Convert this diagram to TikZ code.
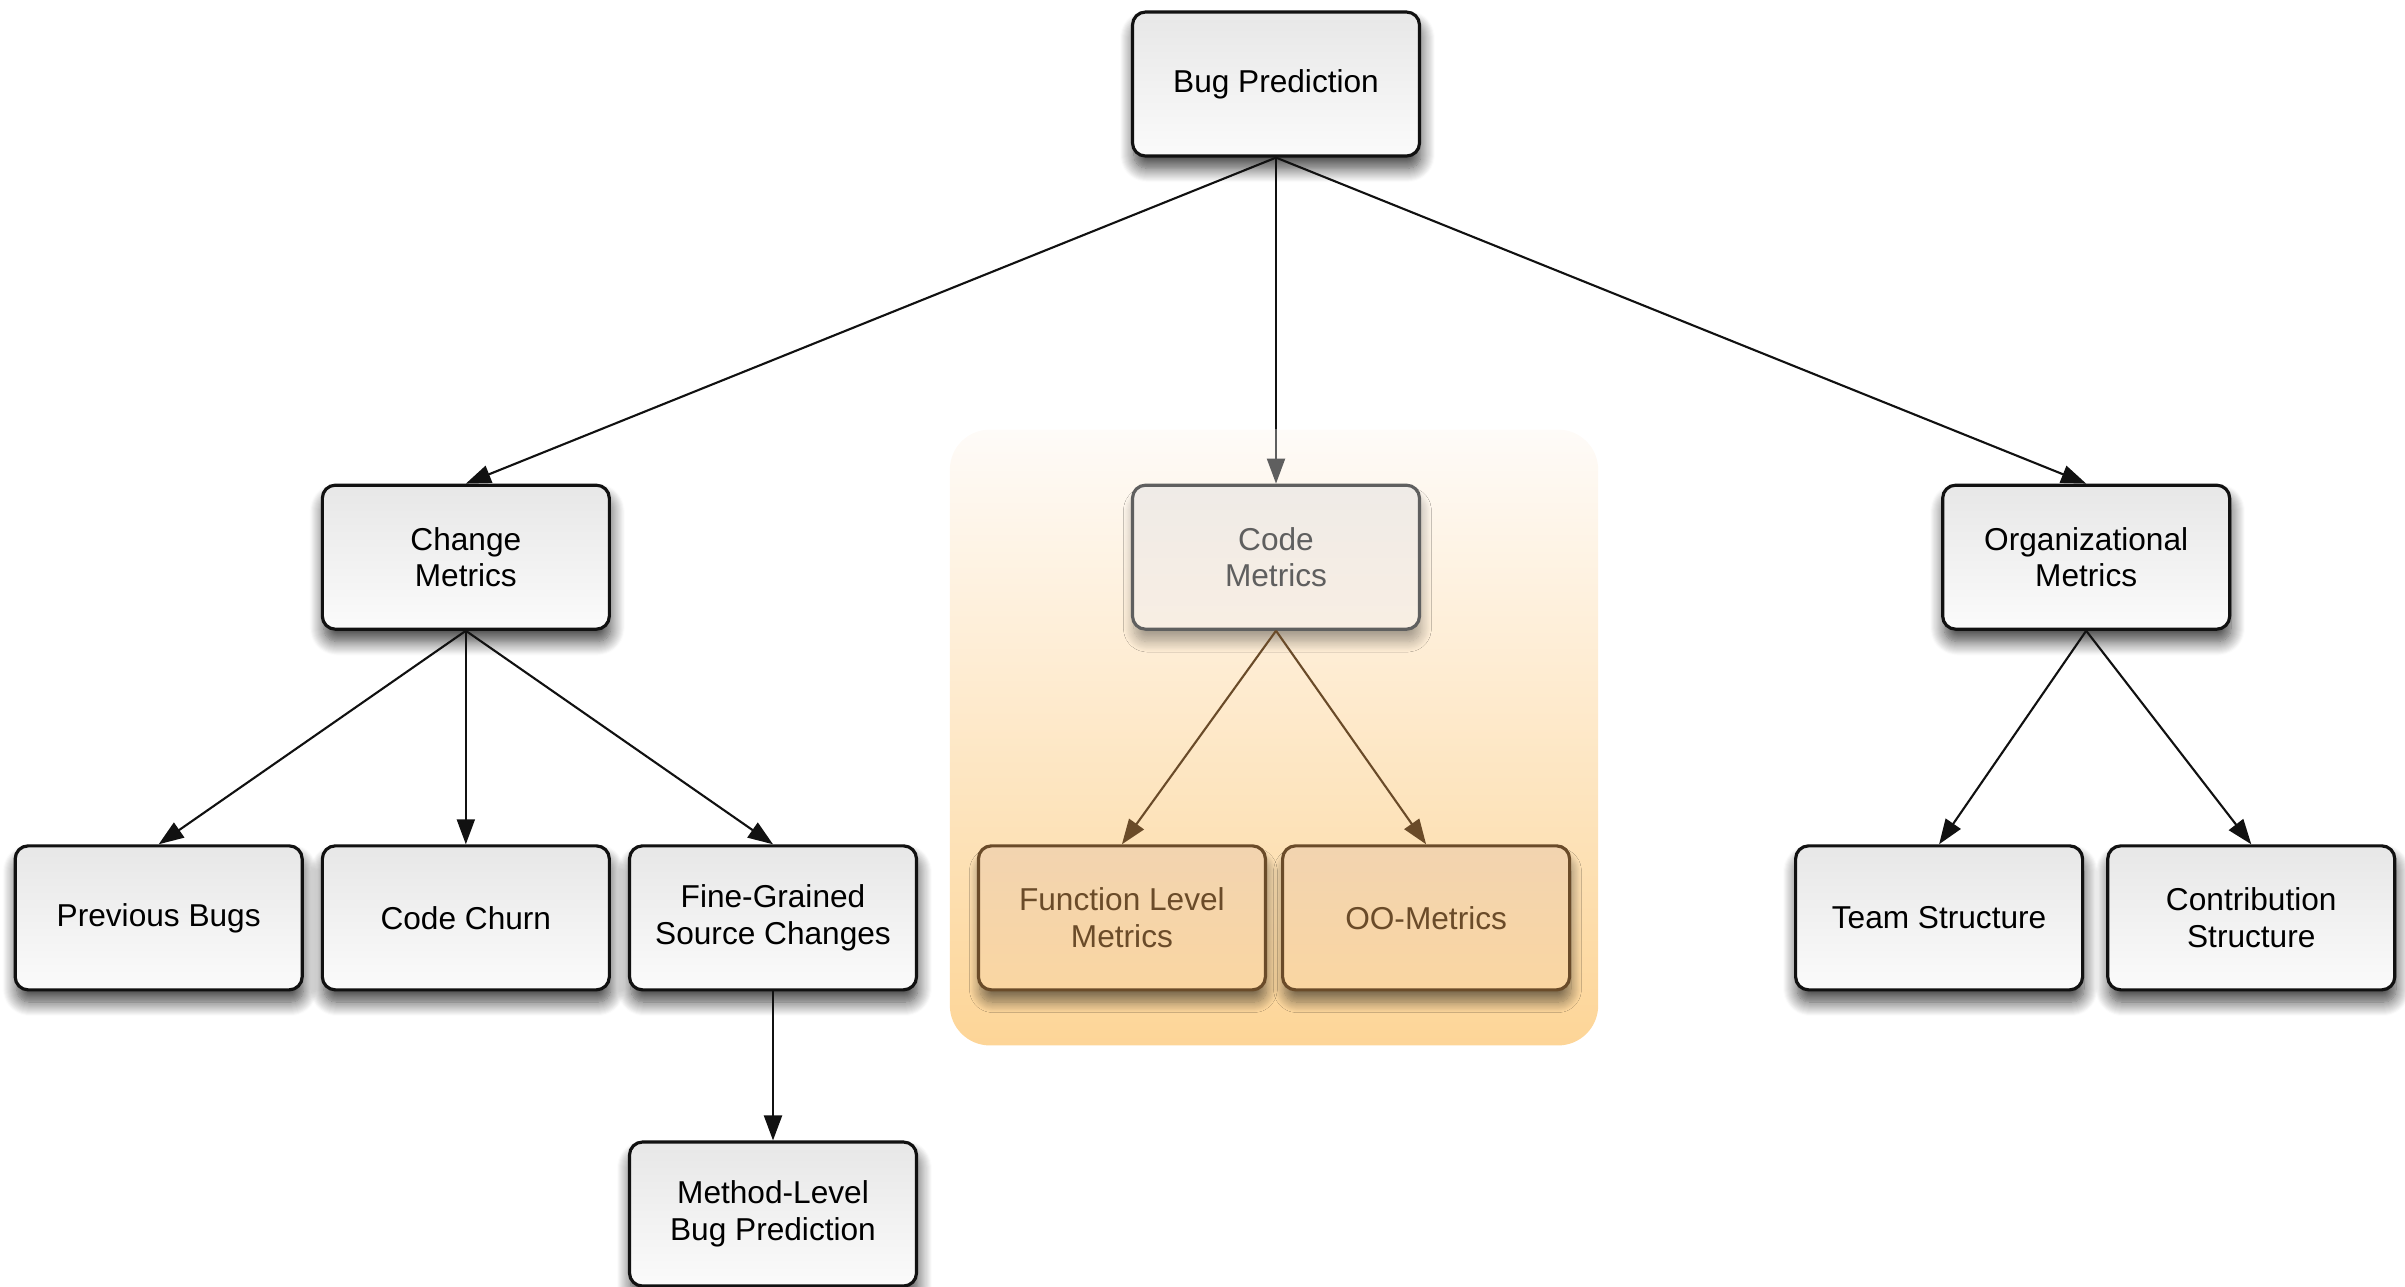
\documentclass[tikz,border=0pt]{standalone}
\usepackage{fontspec}
\setmainfont{Liberation Sans}
\usepackage{tikz}
\usetikzlibrary{arrows.meta,positioning,fit,backgrounds,shadows.blur}
\definecolor{ink}{HTML}{111111}
\definecolor{boxtop}{HTML}{E7E7E7}
\definecolor{boxbot}{HTML}{FBFBFB}
\definecolor{fade}{HTML}{5F5F5F}
\definecolor{codetop}{HTML}{EFEBE7}
\definecolor{codebot}{HTML}{F8EEE3}
\definecolor{brown}{HTML}{6A4B29}
\definecolor{functop}{HTML}{F2D4B0}
\definecolor{funcbot}{HTML}{FAD6A2}
\definecolor{zonetop}{HTML}{FEFBF8}
\definecolor{zonebot}{HTML}{FDD597}

\begin{document}
\begin{tikzpicture}[
  node distance=1.7mm,
  plain/.style={rounded corners=3.7pt,line width=0.9pt,minimum width=2.87cm,minimum height=1.44cm,inner sep=2pt,align=center,font=\fontsize{9}{10.5}\selectfont},
  box/.style={plain,draw=ink,top color=boxtop,bottom color=boxbot,blur shadow={shadow xshift=0.4pt,shadow yshift=-3.5pt,shadow blur radius=4pt,shadow blur steps=14,shadow opacity=75}},
  codebox/.style={plain,draw=fade,text=fade,top color=codetop,bottom color=codebot,blur shadow={shadow xshift=0.4pt,shadow yshift=-3.5pt,shadow blur radius=3pt,shadow blur steps=14,shadow opacity=35}},
  funcbox/.style={plain,draw=brown,text=brown,top color=functop,bottom color=funcbot,blur shadow={shadow xshift=0.4pt,shadow yshift=-3.5pt,shadow blur radius=3pt,shadow blur steps=14,shadow opacity=50}},
  zone/.style={rounded corners=0.4cm,top color=zonetop,bottom color=zonebot,draw=none,inner xsep=2.7mm,inner ysep=5.4mm},
  arr/.style={-{Triangle[length=2.5mm,width=1.8mm]},line width=0.6pt,draw=ink},
  fadearr/.style={arr,draw=fade,fill=fade},
  brownarr/.style={arr,draw=brown,fill=brown}
]
\useasboundingbox (0,0) rectangle (24.05,-12.86);
\node[box] (bug) at (12.76,-0.84) {Bug Prediction};
\node[codebox,below=3.26cm of bug] (code) {Code\\Metrics};
\node[box,left=5.2cm of code] (change) {Change\\Metrics};
\node[box,right=5.2cm of code] (org) {Organizational\\Metrics};
\node[box,below=2.135cm of change] (churn) {Code Churn};
\node[box,left=of churn] (prev) {Previous Bugs};
\node[box,right=of churn] (fine) {Fine-Grained\\Source Changes};
\node[box,below=1.49cm of fine] (method) {Method-Level\\Bug Prediction};
\node[funcbox,below left=2.135cm and 0.9mm of code.south] (func) {Function Level\\Metrics};
\node[funcbox,below right=2.135cm and 0.5mm of code.south] (oo) {OO-Metrics};
\node[box,below left=2.135cm and 0.2mm of org.south] (team) {Team Structure};
\node[box,right=2.2mm of team] (contrib) {Contribution\\Structure};
\begin{scope}[on background layer]
\node[zone,fit=(code)(func)(oo)] (codezone) {};
\end{scope}
\coordinate (fadein) at (bug.south |- codezone.north);
\draw[arr] (bug.south)--(change.north);
\draw[line width=0.6pt,draw=ink] (bug.south)--(fadein);
\draw[fadearr] (fadein)--(code.north);
\draw[arr] (bug.south)--(org.north);
\draw[arr] (change.south)--(prev.north);
\draw[arr] (change.south)--(churn.north);
\draw[arr] (change.south)--(fine.north);
\draw[arr] (fine.south)--(method.north);
\draw[brownarr] (code.south)--(func.north);
\draw[brownarr] (code.south)--(oo.north);
\draw[arr] (org.south)--(team.north);
\draw[arr] (org.south)--(contrib.north);
\end{tikzpicture}
\end{document}
